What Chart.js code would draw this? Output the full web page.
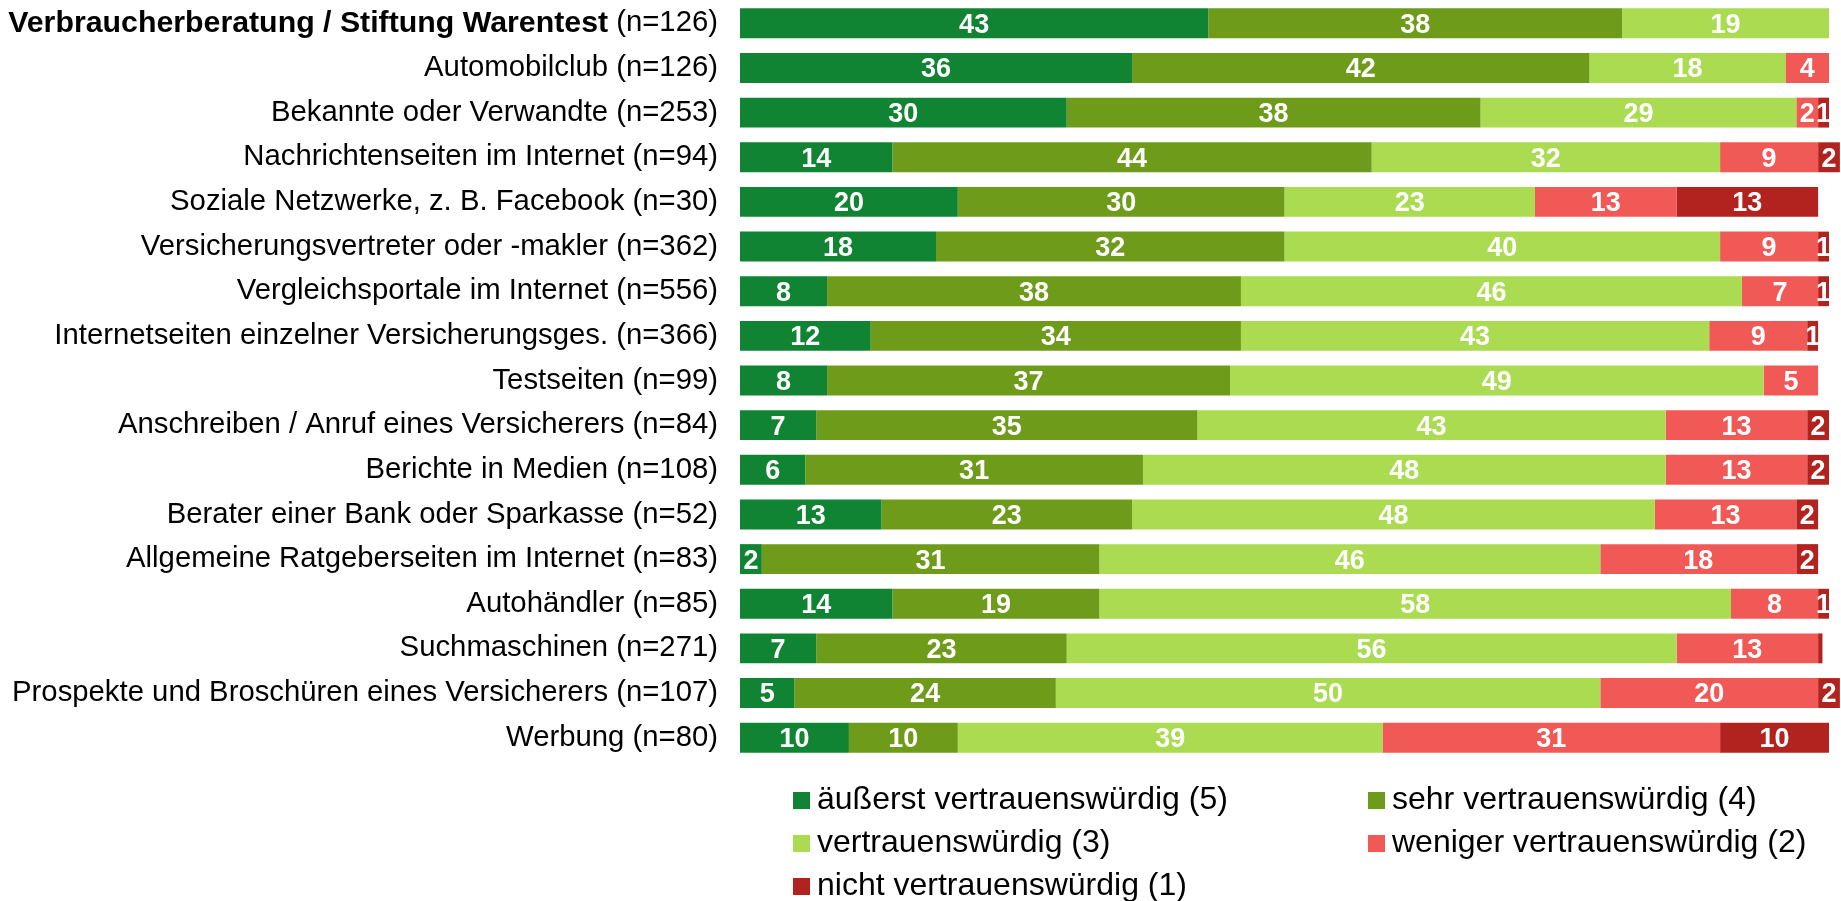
<!DOCTYPE html>
<html lang="de">
<head>
<meta charset="utf-8">
<title>Vertrauenswürdigkeit von Informationsquellen</title>
<script src="https://cdn.jsdelivr.net/npm/chart.js@4.4.1/dist/chart.umd.min.js"></script>
<style>
  html, body { margin: 0; padding: 0; background: #fff; }
  #wrap { position: relative; width: 1841px; height: 901px; }
  #legend {
    position: absolute; left: 793px; top: 777px;
    display: grid; grid-template-columns: 575px auto; grid-auto-rows: 43px;
    font: 32px "Liberation Sans", Arial, sans-serif; color: #000;
  }
  #legend .item { display: flex; align-items: center; white-space: nowrap; }
  #legend .box { width: 17px; height: 17px; margin-right: 7px; margin-top: 3px; }
</style>
</head>
<body>
<div id="wrap">
  <canvas id="trust-chart"></canvas>
  <div id="legend"></div>
</div>
<script>
const sources = [
  'Verbraucherberatung / Stiftung Warentest (n=126)',
  'Automobilclub (n=126)',
  'Bekannte oder Verwandte (n=253)',
  'Nachrichtenseiten im Internet (n=94)',
  'Soziale Netzwerke, z. B. Facebook (n=30)',
  'Versicherungsvertreter oder -makler (n=362)',
  'Vergleichsportale im Internet (n=556)',
  'Internetseiten einzelner Versicherungsges. (n=366)',
  'Testseiten (n=99)',
  'Anschreiben / Anruf eines Versicherers (n=84)',
  'Berichte in Medien (n=108)',
  'Berater einer Bank oder Sparkasse (n=52)',
  'Allgemeine Ratgeberseiten im Internet (n=83)',
  'Autohändler (n=85)',
  'Suchmaschinen (n=271)',
  'Prospekte und Broschüren eines Versicherers (n=107)',
  'Werbung (n=80)'
];

// shares in percent, one entry per source
const rating5 = [43, 36, 30, 14, 20, 18, 8, 12, 8, 7, 6, 13, 2, 14, 7, 5, 10];
const rating4 = [38, 42, 38, 44, 30, 32, 38, 34, 37, 35, 31, 23, 31, 19, 23, 24, 10];
const rating3 = [19, 18, 29, 32, 23, 40, 46, 43, 49, 43, 48, 48, 46, 58, 56, 50, 39];
const rating2 = [0, 4, 2, 9, 13, 9, 7, 9, 5, 13, 13, 13, 18, 8, 13, 20, 31];
const rating1 = [0, 0, 1, 2, 13, 1, 1, 1, 0, 2, 2, 2, 2, 1, 0.4, 2, 10];

const ratingNames = [
  'äußerst vertrauenswürdig (5)',
  'sehr vertrauenswürdig (4)',
  'vertrauenswürdig (3)',
  'weniger vertrauenswürdig (2)',
  'nicht vertrauenswürdig (1)'
];
const ratingColors = ['rgb(16,132,50)', 'rgb(111,155,27)', 'rgb(171,219,81)', 'rgb(240,89,85)', 'rgb(178,34,30)'];

const FONT = '"Liberation Sans", Arial, sans-serif';
const LABEL_GAP = 22;

// white numbers in the middle of each segment
const segmentLabels = {
  id: 'segmentLabels',
  afterDatasetsDraw(chart) {
    const ctx = chart.ctx;
    ctx.save();
    ctx.font = 'bold 27px ' + FONT;
    ctx.fillStyle = '#fff';
    ctx.textAlign = 'center';
    ctx.textBaseline = 'middle';
    chart.data.datasets.forEach((ds, i) => {
      chart.getDatasetMeta(i).data.forEach((bar, j) => {
        const v = ds.data[j];
        if (v < 1) return;
        const p = bar.getProps(['x', 'y', 'base'], true);
        ctx.fillText(v, (p.x + p.base) / 2, p.y + 2);
      });
    });
    ctx.restore();
  }
};

// first source: name in bold, sample size in regular weight
const boldFirstLabel = {
  id: 'boldFirstLabel',
  afterDraw(chart) {
    const ctx = chart.ctx;
    const label = chart.data.labels[0];
    const cut = label.indexOf(' (n=');
    const head = label.slice(0, cut);
    const tail = label.slice(cut);
    const y = chart.scales.y.getPixelForTick(0);
    const right = chart.chartArea.left - LABEL_GAP;
    ctx.save();
    ctx.fillStyle = '#000';
    ctx.textAlign = 'right';
    ctx.textBaseline = 'middle';
    ctx.font = '29.3px ' + FONT;
    ctx.fillText(tail, right, y);
    const w = ctx.measureText(tail).width;
    ctx.font = 'bold 30.3px ' + FONT;
    ctx.fillText(head, right - w, y);
    ctx.restore();
  }
};

const series = [rating5, rating4, rating3, rating2, rating1];

const data = {
  labels: sources,
  datasets: series.map((values, i) => ({
    label: ratingNames[i],
    data: values,
    backgroundColor: ratingColors[i],
    borderWidth: 0,
    categoryPercentage: 1,
    barPercentage: 0.67,
    clip: false
  }))
};

const config = {
  type: 'bar',
  data: data,
  options: {
    indexAxis: 'y',
    responsive: true,
    maintainAspectRatio: false,
    animation: false,
    events: [],
    layout: { padding: { top: 1, right: 12, bottom: 141, left: 0 } },
    plugins: {
      legend: { display: false },
      tooltip: { enabled: false }
    },
    scales: {
      x: { stacked: true, min: 0, max: 100, display: false },
      y: {
        stacked: true,
        grid: { display: false, drawTicks: false },
        border: { display: false },
        afterFit: (scale) => {
          scale.width = 740;
          // the labels sit beside the bars, no extra room needed above or below
          scale.paddingTop = 0;
          scale.paddingBottom = 0;
        },
        ticks: {
          padding: LABEL_GAP,
          color: '#000',
          autoSkip: false,
          font: { family: FONT, size: 29.3 },
          callback: function (value, index) {
            return index === 0 ? '' : this.getLabelForValue(value);
          }
        }
      }
    }
  },
  plugins: [segmentLabels, boldFirstLabel]
};

new Chart(document.getElementById('trust-chart'), config);

// legend in two columns below the bars
const legendEl = document.getElementById('legend');
ratingNames.forEach((name, i) => {
  const item = document.createElement('div');
  item.className = 'item';
  const box = document.createElement('span');
  box.className = 'box';
  box.style.background = ratingColors[i];
  item.appendChild(box);
  item.appendChild(document.createTextNode(name));
  legendEl.appendChild(item);
});
</script>
</body>
</html>
